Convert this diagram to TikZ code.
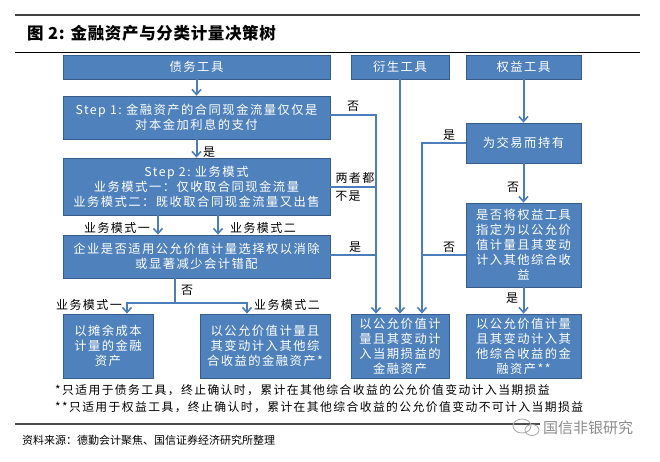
\documentclass[tikz,border=0pt]{standalone}
\usepackage{fontspec}
\setmainfont{Noto Sans CJK SC}
\newfontfamily\cjk[LetterSpace=12]{Noto Sans CJK SC}
\newfontfamily\cjkplain{Noto Sans CJK SC}
\newfontfamily\cjktitle[LetterSpace=4]{Noto Sans CJK SC}
\usetikzlibrary{arrows.meta}
\definecolor{boxfill}{HTML}{4F81BD}
\definecolor{boxline}{HTML}{385D8A}
\definecolor{conn}{HTML}{4A7EBB}
\tikzset{
  box/.style={draw=boxline, line width=0.8pt, fill=boxfill, text=white, inner sep=0pt,
    align=center, font=\cjk\fontsize{12.3}{15}\selectfont},
  conn/.style={draw=conn, line width=2pt},
  arr/.style={conn, -{Straight Barb[length=5pt,width=9pt,line width=1.6pt]}},
  lab/.style={inner sep=0pt, font=\cjk\fontsize{12}{14}\selectfont, text=black},
}
\newcommand{\mkbox}[6]{% name, x1, y1, x2, y2, text
  \node[box, minimum width={(#4-#2)*1pt}, minimum height={(#5-#3)*1pt}] (#1)
    at ({(#2+#4)/2}, {(#3+#5)/2}) {#6};}
\begin{document}
\begin{tikzpicture}[x=1pt, y=-1pt]
\useasboundingbox (0,0) rectangle (660,461);
\fill[white] (0,0) rectangle (660,461);
% rules
\draw[line width=2pt, black!75] (15,15) -- (640,15);
\draw[line width=0.9pt, black] (15,52) -- (640,52);
\draw[line width=1.4pt, black!70] (15,424) -- (540,424);
% title
\node[anchor=west, inner sep=0pt, font=\cjktitle\bfseries\fontsize{16.5}{19}\selectfont] (title) at (27,33) {图 2:\hspace{6pt}金融资产与分类计量决策树};
% boxes
\mkbox{debt}{63}{55}{330}{79}{债务工具}
\mkbox{step1}{63}{96}{330}{139}{Step 1:\ 金融资产的合同现金流量仅仅是\\对本金加利息的支付}
\mkbox{step2}{63}{158}{330}{215}{Step 2:\ 业务模式\\业务模式一：仅收取合同现金流量\\业务模式二：既收取合同现金流量又出售}
\mkbox{qiye}{63}{235}{330}{278}{企业是否适用公允价值计量选择权以消除\\或显著减少会计错配}
\mkbox{amort}{63}{314}{153}{378}{以摊余成本\\计量的金融\\资产}
\mkbox{fvocid}{200}{314}{330}{378}{以公允价值计量且\\其变动计入其他综\\合收益的金融资产*}
\mkbox{deriv}{351}{55}{449}{79}{衍生工具}
\mkbox{equity}{466}{55}{581}{79}{权益工具}
\mkbox{trade}{466}{123}{581}{163}{为交易而持有}
\mkbox{desig}{466}{203}{581}{287}{是否将权益工具\\指定为以公允价\\值计量且其变动\\计入其他综合收\\益}
\mkbox{fvtpl}{351}{314}{449}{378}{以公允价值计\\量且其变动计\\入当期损益的\\金融资产}
\mkbox{fvocie}{466}{314}{581}{378}{以公允价值计量\\且其变动计入其\\他综合收益的金\\融资产**}
% coordinates
\coordinate (jA) at (376,115);
\coordinate (jB) at (422,143);
\coordinate (jQ) at (175,303);
\coordinate (jL) at (127,303);
\coordinate (jR) at (247,303);
% debt chain
\draw[arr] (debt.south) -- (step1.north);
\draw[arr] (step1.south) -- (step2.north);
\draw[arr] (step2.south -| 158,0) -- (qiye.north -| 158,0);
\draw[arr] (step2.south -| 218,0) -- (qiye.north -| 218,0);
\draw[conn] (qiye.south -| jQ) -- (jQ);
\draw[arr] (jQ) -- (jL) -- (amort.north -| jL);
\draw[arr] (jQ) -- (jR) -- (fvocid.north -| jR);
% to FVTPL
\draw[arr] (step1.east |- jA) -- (jA) -- (fvtpl.north -| jA);
\draw[conn] (step2.east |- 0,187) -- (jA |- 0,187);
\draw[conn] (qiye.east |- 0,255) -- (jA |- 0,255);
\draw[arr] (deriv.south -| 400,0) -- (fvtpl.north -| 400,0);
\draw[arr] (trade.west |- jB) -- (jB) -- (fvtpl.north -| jB);
\draw[conn] (desig.west |- 0,255) -- (jB |- 0,255);
% equity chain
\draw[arr] (equity.south -| 523.5,0) -- (trade.north -| 523.5,0);
\draw[arr] (trade.south -| 523.5,0) -- (desig.north -| 523.5,0);
\draw[arr] (desig.south -| 523.5,0) -- (fvocie.north -| 523.5,0);
% labels
\node[lab] (l1) at (209,152) {是};
\node[lab] (l2) at (117,228) {业务模式一};
\node[lab] (l3) at (263,228) {业务模式二};
\node[lab] (l4) at (187,290) {否};
\node[lab] (l5) at (89,305) {业务模式一};
\node[lab] (l6) at (287,305) {业务模式二};
\node[lab] (l7) at (353,106) {否};
\node[lab] (l8) at (355,178) {两者都};
\node[lab] (l9) at (348,196) {不是};
\node[lab] (l10) at (355,247) {是};
\node[lab] (l11) at (449,135) {是};
\node[lab] (l12) at (449,247) {否};
\node[lab] (l13) at (513,187) {否};
\node[lab] (l14) at (512,298) {是};
% footnotes
\node[anchor=west, inner sep=0pt, font=\cjk\fontsize{11.8}{14}\selectfont] (fn1) at (55,390) {*只适用于债务工具，终止确认时，累计在其他综合收益的公允价值变动计入当期损益};
\node[anchor=west, inner sep=0pt, font=\cjk\fontsize{11.8}{14}\selectfont] (fn2) at (55,407) {**只适用于权益工具，终止确认时，累计在其他综合收益的公允价值变动不可计入当期损益};
% source
\node[anchor=west, inner sep=0pt, font=\cjkplain\fontsize{11}{13}\selectfont] (src) at (22,440) {资料来源：德勤会计聚焦、国信证券经济研究所整理};
% watermark
\draw[black!35, line width=0.8pt] (522,426) ellipse (9pt and 7pt);
\draw[black!35, line width=0.8pt] (532,430) ellipse (7pt and 5.5pt);
\node[anchor=west, inner sep=0pt, text=black!45, font=\cjkplain\fontsize{15}{17}\selectfont] (wm) at (543,428) {国信非银研究};
\end{tikzpicture}
\end{document}
